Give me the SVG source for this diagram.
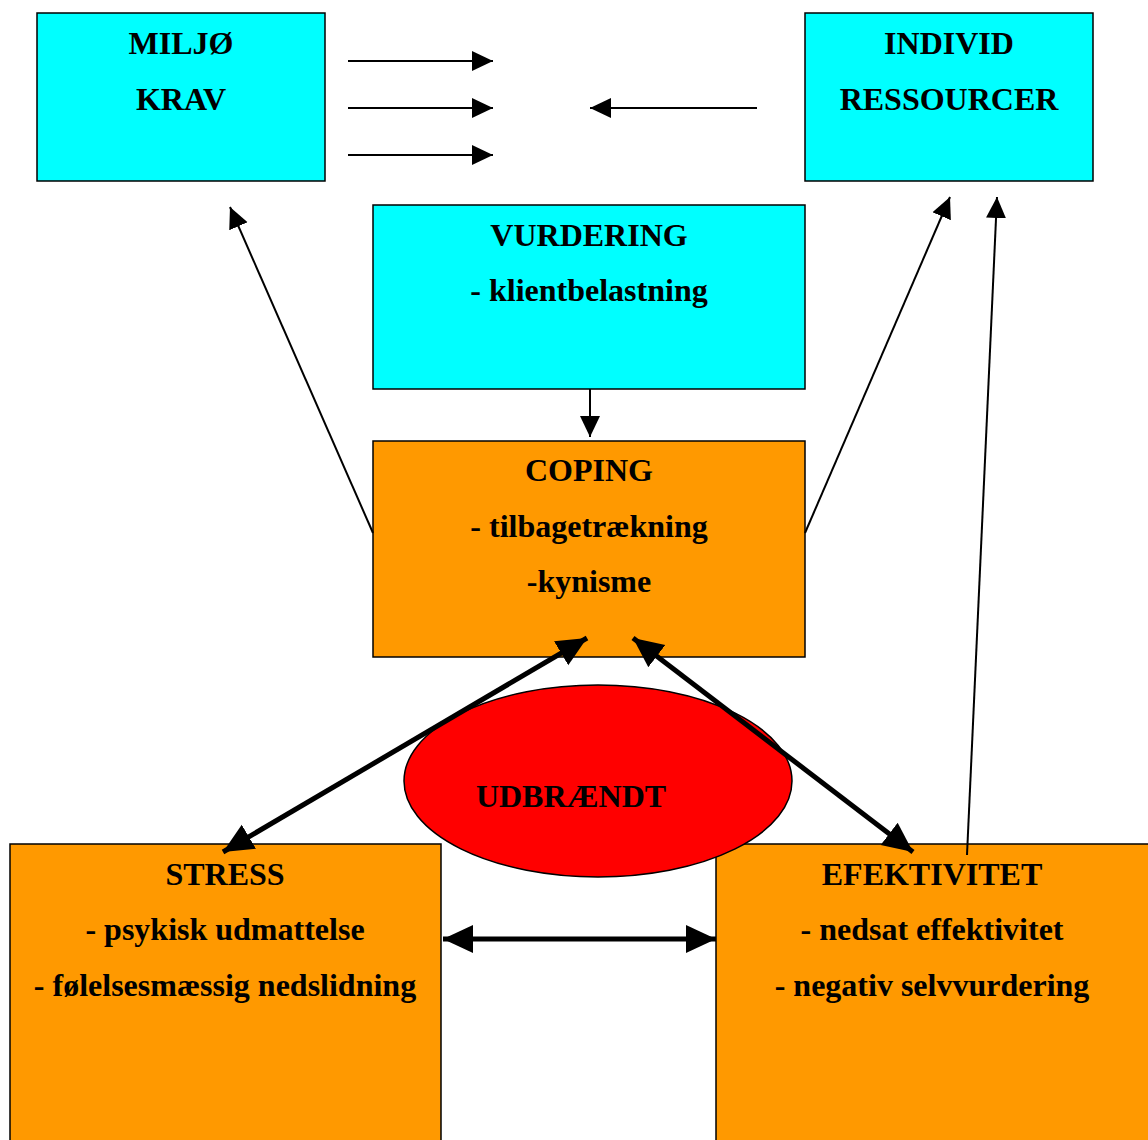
<svg xmlns="http://www.w3.org/2000/svg" width="1148" height="1140" viewBox="0 0 1148 1140">
<style>
.box{stroke:#000;stroke-width:1.5}
.cyan{fill:#00ffff}
.orange{fill:#ff9900}
text{font-family:"Liberation Serif","Times New Roman",serif;font-weight:bold;font-size:32px;text-anchor:middle;fill:#000}
.thin{stroke:#000;stroke-width:2;fill:none}
.thick{stroke:#000;stroke-width:5;fill:none}
</style>
<defs>
<marker id="ah" markerUnits="userSpaceOnUse" markerWidth="22" markerHeight="22" viewBox="0 0 22 22" refX="21" refY="11" orient="auto-start-reverse"><path d="M0,1 L21,11 L0,21 Z" fill="#000"/></marker>
<marker id="ahb" markerUnits="userSpaceOnUse" markerWidth="32" markerHeight="32" viewBox="0 0 32 32" refX="30" refY="16" orient="auto-start-reverse"><path d="M0,2 L30,16 L0,30 Z" fill="#000"/></marker>
</defs>
<rect width="1148" height="1140" fill="#fff"/>
<g id="miljo"><rect class="box cyan" x="37" y="13" width="288" height="168"/><text x="181" y="54">MILJØ</text><text x="181" y="110">KRAV</text></g>
<g id="individ"><rect class="box cyan" x="805" y="13" width="288" height="168"/><text x="949" y="54">INDIVID</text><text x="949" y="110">RESSOURCER</text></g>
<g id="vurdering"><rect class="box cyan" x="373" y="205" width="432" height="184"/><text x="589" y="246">VURDERING</text><text x="589" y="301">- klientbelastning</text></g>
<g id="coping"><rect class="box orange" x="373" y="441" width="432" height="216"/><text x="589" y="481">COPING</text><text x="589" y="537">- tilbagetrækning</text><text x="589" y="592">-kynisme</text></g>
<g id="stress"><rect class="box orange" x="10" y="844" width="431" height="310"/><text x="225" y="885">STRESS</text><text x="225" y="940">- psykisk udmattelse</text><text x="225" y="996">- følelsesmæssig nedslidning</text></g>
<g id="efektivitet"><rect class="box orange" x="716" y="844" width="440" height="310"/><text x="932" y="885">EFEKTIVITET</text><text x="932" y="940">- nedsat effektivitet</text><text x="932" y="996">- negativ selvvurdering</text></g>
<g id="connectors">
<line class="thin" x1="348" y1="61" x2="493" y2="61" marker-end="url(#ah)"/>
<line class="thin" x1="348" y1="108" x2="493" y2="108" marker-end="url(#ah)"/>
<line class="thin" x1="348" y1="155" x2="493" y2="155" marker-end="url(#ah)"/>
<line class="thin" x1="757" y1="108" x2="590" y2="108" marker-end="url(#ah)"/>
<line class="thin" x1="373" y1="533" x2="230" y2="207" marker-end="url(#ah)"/>
<line class="thin" x1="805" y1="533" x2="950" y2="197" marker-end="url(#ah)"/>
<line class="thin" x1="967" y1="855" x2="997" y2="197" marker-end="url(#ah)"/>
<line class="thin" x1="590" y1="389" x2="590" y2="437" marker-end="url(#ah)"/>
</g>
<g id="udbraendt"><ellipse cx="598" cy="781" rx="194" ry="96" fill="#ff0000" stroke="#000" stroke-width="1.5"/><text x="571" y="807">UDBRÆNDT</text></g>
<g id="connectors-thick">
<line class="thick" x1="223" y1="852" x2="587" y2="638" marker-start="url(#ahb)" marker-end="url(#ahb)"/>
<line class="thick" x1="633" y1="638" x2="913" y2="852" marker-start="url(#ahb)" marker-end="url(#ahb)"/>
<line class="thick" x1="443" y1="939" x2="716" y2="939" marker-start="url(#ahb)" marker-end="url(#ahb)"/>
</g>
</svg>
